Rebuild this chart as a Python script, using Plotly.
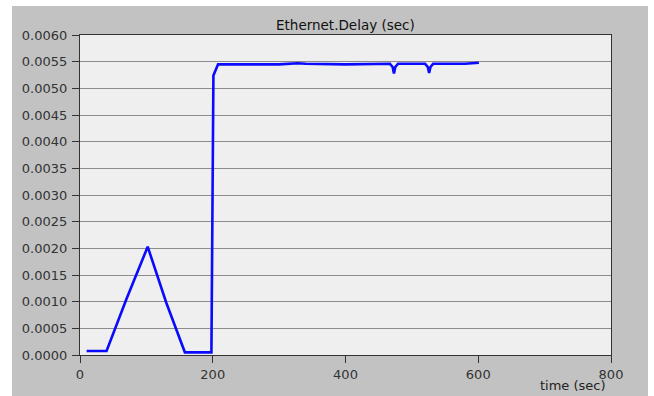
import plotly.graph_objects as go

# data
time_sec = [10, 40, 70, 102, 130, 158, 198, 201, 208, 260, 300, 328, 340, 400, 440, 467,
            471, 473, 475, 479, 520, 524, 526, 528, 532, 560, 580, 601]
delay_sec = [0.000075, 0.000075, 0.00105, 0.00203, 0.00098, 0.00005, 0.00005, 0.00524,
             0.00545, 0.00545, 0.00545, 0.00547, 0.00546, 0.00545, 0.00545, 0.00546,
             0.00540, 0.00528, 0.00540, 0.00546, 0.00546, 0.00540, 0.00529, 0.00540,
             0.00546, 0.00546, 0.00546, 0.00548]

x_ticks = [0, 200, 400, 600, 800]
y_ticks = [i * 0.0005 for i in range(13)]
y_tick_labels = ["%.4f" % v for v in y_ticks]

title_text = "Ethernet.Delay (sec)"
x_title = "time (sec)"

W, H = 654, 396
L, R, T, B = 80, 43, 35, 41
pw, ph = W - L - R, H - T - B


def px_x(p):
    return (p - L) / pw


def px_y(p):
    return (H - B - p) / ph


fig = go.Figure()
fig.add_trace(go.Scatter(x=time_sec, y=delay_sec, mode="lines",
                         line=dict(color="#0a0aff", width=2.6), hoverinfo="skip"))

font_fam = "DejaVu Sans, Verdana, sans-serif"
axis_common = dict(showline=True, linecolor="#333333", linewidth=1.3, mirror=True,
                   ticks="outside", ticklen=7, tickcolor="#333333", tickwidth=1,
                   zeroline=False,
                   tickfont=dict(family=font_fam, size=13, color="#333333"))

fig.update_layout(
    width=W, height=H,
    margin=dict(l=L, r=R, t=T, b=B),
    paper_bgcolor="#c2c2c2",
    plot_bgcolor="#efefef",
    showlegend=False,
    xaxis=dict(range=[0, 800], tickvals=x_ticks, showgrid=False, ticklabelstandoff=0,
               **axis_common),
    yaxis=dict(range=[0, 0.006], tickvals=y_ticks, ticktext=y_tick_labels,
               showgrid=True, gridcolor="#8c8c8c", gridwidth=1, ticklabelstandoff=2,
               **axis_common),
    shapes=[
        dict(type="rect", xref="paper", yref="paper", x0=px_x(-5), x1=px_x(12),
             y0=px_y(400), y1=px_y(-5), fillcolor="white", line=dict(width=0), layer="above"),
        dict(type="rect", xref="paper", yref="paper", x0=px_x(-5), x1=px_x(660),
             y0=px_y(6), y1=px_y(-5), fillcolor="white", line=dict(width=0), layer="above"),
        dict(type="rect", xref="paper", yref="paper", x0=px_x(648), x1=px_x(660),
             y0=px_y(400), y1=px_y(-5), fillcolor="white", line=dict(width=0), layer="above"),
    ],
    annotations=[
        dict(text=title_text, xref="paper", yref="paper", x=0.5, y=px_y(25),
             xanchor="center", yanchor="middle", showarrow=False,
             font=dict(family=font_fam, size=13.5, color="#111111")),
        dict(text=x_title, xref="paper", yref="paper", x=px_x(608), y=px_y(385),
             xanchor="right", yanchor="middle", showarrow=False,
             font=dict(family=font_fam, size=13, color="#222222")),
    ],
)

fig.write_html("out.html")
